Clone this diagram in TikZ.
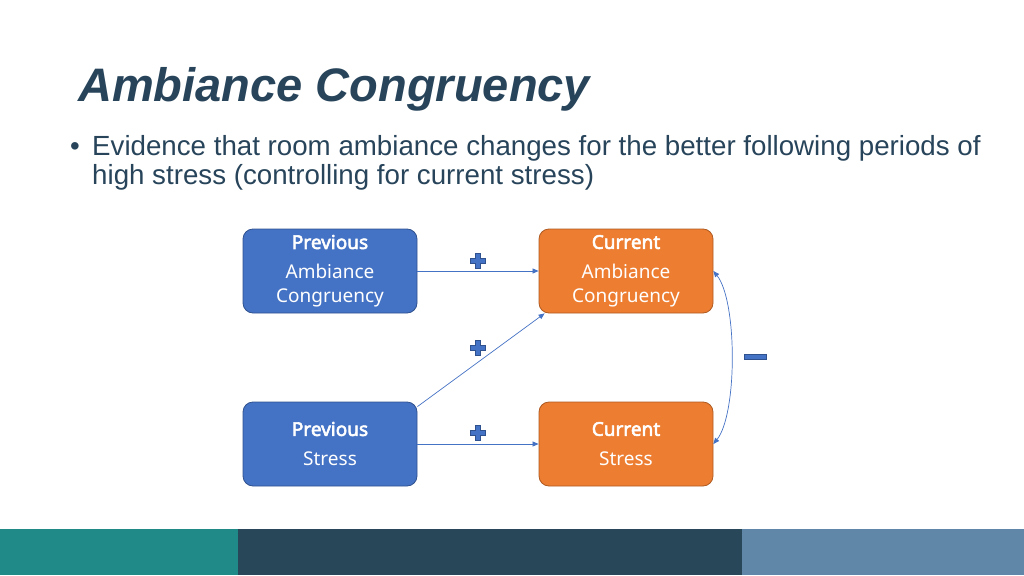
\documentclass[tikz,border=0pt]{standalone}
\usepackage{fontspec}
\setmainfont{Liberation Sans}
\newfontfamily\boxfont{Noto Sans}[AutoFakeBold=3]
\usepackage{xcolor}
\usetikzlibrary{arrows.meta}

\definecolor{slidetext}{HTML}{27445A}
\definecolor{prevfill}{HTML}{4472C4}
\definecolor{prevline}{HTML}{2F528F}
\definecolor{curfill}{HTML}{ED7D31}
\definecolor{curline}{HTML}{AE5A21}
\definecolor{barteal}{HTML}{1F8A87}
\definecolor{bardark}{HTML}{284759}
\definecolor{barsteel}{HTML}{6187A8}

\begin{document}
\begin{tikzpicture}[x=1pt, y=-1pt,
        var/.style={rounded corners=10pt, minimum width=174pt, minimum height=84pt,
                    inner sep=0pt, align=center, text=white, line width=0.8pt,
                    font=\boxfont\fontsize{19}{23.5}\selectfont},
        prev/.style={var, fill=prevfill, draw=prevline},
        cur/.style={var, fill=curfill, draw=curline},
        path/.style={draw=prevfill, line width=0.7pt, -{Triangle[length=6pt,width=5pt]}},
        sign/.style={fill=prevfill, draw=prevline, line width=0.6pt}
      ]
  \useasboundingbox (0,0) rectangle (1024,575);

  % title and bullet
  \node[anchor=base west, inner sep=0pt, text=slidetext,
        font=\fontsize{47}{50}\selectfont\bfseries\itshape] (title) at (78,102) {Ambiance Congruency};
  \node[anchor=base west, inner sep=0pt, text=slidetext,
        font=\fontsize{27.7}{29}\selectfont] (dot) at (70,155) {•};
  \node[anchor=base west, inner sep=0pt, text=slidetext, align=left,
        font=\fontsize{27.7}{29}\selectfont] (body) at (92,184)
        {Evidence that room ambiance changes for the better following periods of\\
         high stress (controlling for current stress)};

  % variables
  \node[prev] (pa) at (330,271) {\textbf{Previous}\\[6.5pt]Ambiance\\Congruency};
  \node[cur]  (ca) at (626,271) {\textbf{Current}\\[6.5pt]Ambiance\\Congruency};
  \node[prev] (ps) at (330,444) {\textbf{Previous}\\[6.5pt]Stress};
  \node[cur]  (cs) at (626,444) {\textbf{Current}\\[6.5pt]Stress};

  % paths
  \draw[path] (pa) -- (ca);
  \draw[path] ([yshift=-5pt]ps.north east) -- ([xshift=6pt]ca.south west);
  \draw[path] (ps) -- (cs);
  \draw[draw=prevfill, line width=0.7pt, {Triangle[length=6pt,width=5pt]}-{Triangle[length=6pt,width=5pt]}]
        (ca.east) .. controls +(24,30) and +(24,-30) .. (cs.east);

  % signs
  \foreach \x/\y in {478/261, 478/348, 478/433} {
    \filldraw[sign] (\x-2.5,\y-7.5) -- (\x+2.5,\y-7.5) -- (\x+2.5,\y-2.5) -- (\x+7.5,\y-2.5)
      -- (\x+7.5,\y+2.5) -- (\x+2.5,\y+2.5) -- (\x+2.5,\y+7.5) -- (\x-2.5,\y+7.5)
      -- (\x-2.5,\y+2.5) -- (\x-7.5,\y+2.5) -- (\x-7.5,\y-2.5) -- (\x-2.5,\y-2.5) -- cycle;
  }
  \filldraw[sign] (744,354) rectangle (766,359);

  % footer bars
  \fill[barteal]  (0,529)   rectangle (238,575);
  \fill[bardark]  (238,529) rectangle (742,575);
  \fill[barsteel] (742,529) rectangle (1024,575);
\end{tikzpicture}
\end{document}
